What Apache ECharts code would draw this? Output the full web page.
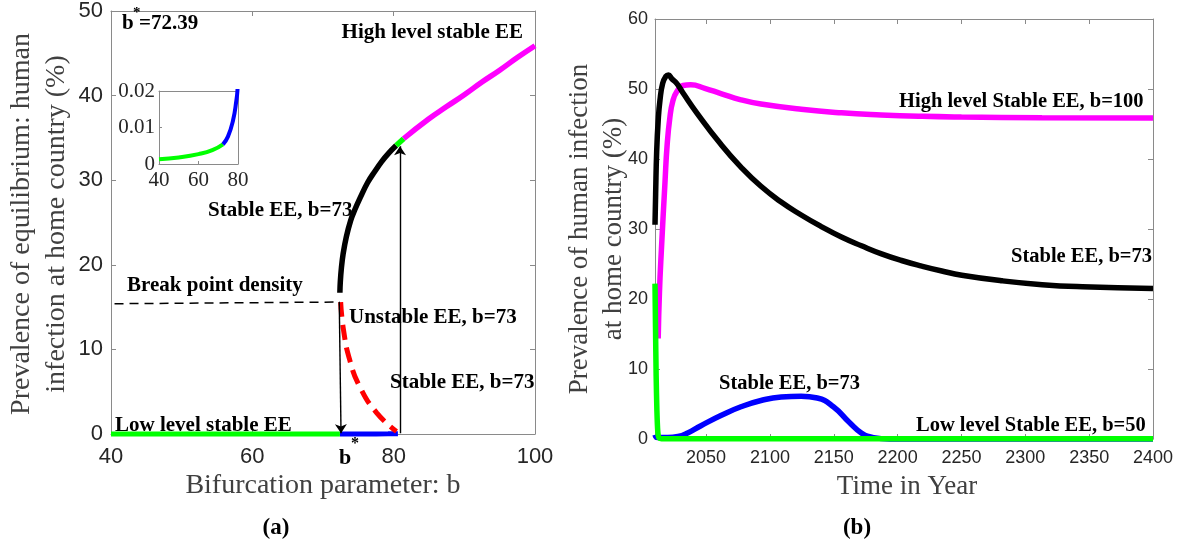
<!DOCTYPE html>
<html>
<head>
<meta charset="utf-8">
<script src="https://cdn.jsdelivr.net/npm/echarts@6/dist/echarts.min.js"></script>
<style>
html,body{margin:0;padding:0;background:#fff;}
#chart{width:1190px;height:550px;}
</style>
</head>
<body>
<div id="chart"></div>
<script>
// ---------- Panel (a): bifurcation diagram ----------
const lowStableB = [40, 50, 60, 67, 72.39];
const lowStableV = [0.0013, 0.0018, 0.0027, 0.0038, 0.0054];
const lowBlueB = [72.39, 74.9, 77.5, 79.2, 79.7, 80.6];
const lowBlueV = [0.0054, 0.0075, 0.012, 0.0175, 0.02, 0.03];
const upperB = [72.39, 72.45, 72.6, 72.85, 73.3, 73.9, 74.5, 75.3, 76.3, 77.3, 78.3, 79.3, 80.35];
const upperV = [16.7, 18.0, 19.6, 21.3, 23.3, 25.2, 26.5, 28.0, 29.7, 31.0, 32.2, 33.2, 34.1];
const greenBitB = [80.35, 81.4];
const greenBitV = [34.1, 34.9];
const highB = [81.4, 84.9, 87.5, 90, 92.5, 95, 97.5, 100];
const highV = [34.9, 37.2, 38.7, 40.1, 41.6, 43.0, 44.5, 45.9];
const unstableB = [72.5, 72.9, 73.8, 75.2, 77.6, 80.4];
const unstableV = [15.6, 12.3, 8.7, 5.6, 2.5, 0.3];
const breakB = [40.5, 72.39];
const breakV = [15.4, 15.6];
const arrowDown = [[72.3, 15.6], [72.55, 0.1]];
const arrowUp = [[80.9, 0.1], [80.9, 34.0]];
const arrowDiag = [[75.5, -0.5], [83.9, 4.9]];

// ---------- Panel (b): time series ----------
const xTickYears = [2050, 2100, 2150, 2200, 2250, 2300, 2350, 2400];
const tHigh = [2012.5, 2013.5, 2015, 2017.8, 2019.5, 2021.7, 2024, 2027, 2032, 2038, 2049, 2061.6, 2077.3, 2093, 2124.5, 2156, 2187, 2219, 2250, 2313, 2400];
const vHigh = [14.35, 21, 27, 36.6, 42, 46, 48.3, 49.6, 50.5, 50.6, 50.1, 49.35, 48.45, 47.85, 47.1, 46.6, 46.3, 46.1, 46.0, 45.9, 45.85];
const tMid = [2010, 2010.5, 2011.3, 2012.5, 2013.9, 2016, 2018.5, 2020.5, 2023, 2027, 2031.7, 2042.7, 2061.6, 2077.3, 2093, 2108.8, 2124.5, 2140.2, 2156, 2171.7, 2187.4, 2203.1, 2218.9, 2234.6, 2250.3, 2281.8, 2313.2, 2344.7, 2400];
const vMid = [30.6, 35, 41, 45.5, 48.4, 50.8, 51.8, 52, 51.5, 50.8, 49.5, 46.6, 42.1, 38.85, 36.1, 33.85, 32, 30.35, 28.85, 27.6, 26.45, 25.5, 24.7, 24, 23.4, 22.6, 22.05, 21.75, 21.5];
const tBlue = [2010, 2012, 2020, 2028, 2036, 2046, 2061.6, 2077.3, 2093, 2108.8, 2124.5, 2137.1, 2149.7, 2162.3, 2171.7, 2181.1, 2193.7, 2400];
const vBlue = [0.6, 0.2, 0.2, 0.35, 0.9, 1.9, 3.35, 4.6, 5.5, 6.0, 6.1, 5.85, 4.6, 2.35, 0.85, 0.2, 0, 0];
const tLow = [2010, 2010.4, 2010.9, 2011.5, 2012.2, 2013, 2015, 2400];
const vLow = [22.2, 16, 9, 4, 1, 0.2, 0.05, 0.05];

const zip = (a, b) => a.map((x, i) => [x, b[i]]);

const AX = '#8a8a8a';
const LBL = '#262626';
const SANS = 'Liberation Sans, Arial, sans-serif';
const SERIF = 'Liberation Serif, Times New Roman, serif';
const plain = v => String(Math.round(v * 1000) / 1000);

function xAx(grid, min, max, opts) {
  return Object.assign({
    type: 'value', gridIndex: grid, min: min, max: max,
    axisLine: {show: true, onZero: false, lineStyle: {color: AX, width: 1}},
    axisTick: {show: true, inside: true, length: 5, lineStyle: {color: AX}},
    splitLine: {show: false},
    axisLabel: {show: true, color: LBL, fontFamily: SANS, fontSize: 22, margin: 12, formatter: plain}
  }, opts || {});
}

const chart = echarts.init(document.getElementById('chart'), null, {renderer: 'canvas'});

function line(data, color, width, xi, yi, extra) {
  return Object.assign({
    type: 'line', data: data, xAxisIndex: xi, yAxisIndex: yi,
    showSymbol: false, symbol: 'none', clip: false, silent: true,
    smooth: 0.5,
    lineStyle: {color: color, width: width, cap: 'butt'}
  }, extra || {});
}

function txt(x, y, text, opt) {
  opt = opt || {};
  return {
    type: 'text', x: x, y: y, rotation: opt.rot || 0, silent: true, z: 100,
    style: {
      text: text,
      font: opt.font || ('bold 21px ' + SERIF),
      fill: opt.fill || '#000',
      textAlign: opt.align || 'left',
      textVerticalAlign: 'middle'
    }
  };
}
const ANN_B = 'bold 20.5px ' + SERIF;
const TITLE = '28px ' + SERIF;

const option = {
  animation: false,
  backgroundColor: '#fff',
  grid: [
    {left: 111, top: 10, width: 424, height: 424},
    {left: 159, top: 91, width: 79, height: 73},
    {left: 655, top: 19, width: 498, height: 420}
  ],
  xAxis: [
    xAx(0, 40, 100, {interval: 20}),
    xAx(0, 40, 100, {interval: 20, position: 'top', axisLabel: {show: false}}),
    xAx(1, 40, 80, {interval: 20, axisTick: {show: true, inside: true, length: 3, lineStyle: {color: AX}},
        axisLabel: {show: true, color: LBL, fontFamily: SERIF, fontSize: 21, margin: 6, formatter: plain}}),
    xAx(1, 40, 80, {interval: 20, position: 'top', axisTick: {show: false}, axisLabel: {show: false}}),
    xAx(2, 2010, 2400, {
      axisTick: {show: true, inside: true, length: 5, lineStyle: {color: AX}, customValues: xTickYears},
      axisLabel: {show: true, color: LBL, fontFamily: SANS, fontSize: 18, margin: 10, customValues: xTickYears, showMaxLabel: true, formatter: plain}
    }),
    xAx(2, 2010, 2400, {position: 'top',
      axisTick: {show: true, inside: true, length: 5, lineStyle: {color: AX}, customValues: xTickYears},
      axisLabel: {show: false}})
  ],
  yAxis: [
    xAx(0, 0, 50, {interval: 10, axisLabel: {show: true, color: LBL, fontFamily: SANS, fontSize: 22, margin: 8, formatter: plain}}),
    xAx(0, 0, 50, {interval: 10, position: 'right', axisLabel: {show: false}}),
    xAx(1, 0, 0.02, {interval: 0.01, axisTick: {show: true, inside: true, length: 3, lineStyle: {color: AX}},
        axisLabel: {show: true, color: LBL, fontFamily: SERIF, fontSize: 21, margin: 4, formatter: plain}}),
    xAx(1, 0, 0.02, {interval: 0.01, position: 'right', axisTick: {show: false}, axisLabel: {show: false}}),
    xAx(2, 0, 60, {interval: 10, axisLabel: {show: true, color: LBL, fontFamily: SANS, fontSize: 18, margin: 7, formatter: plain}}),
    xAx(2, 0, 60, {interval: 10, position: 'right', axisLabel: {show: false}})
  ],
  series: [
    // panel (a)
    line(zip(breakB, breakV), '#000', 1.5, 0, 0, {smooth: false, lineStyle: {color: '#000', width: 1.5, type: [9, 6]},
      markLine: {
        silent: true, symbol: ['none', 'arrow'], symbolSize: 9, animation: false,
        label: {show: false},
        lineStyle: {color: '#000', width: 1.4, type: 'solid'},
        data: [
          [{coord: arrowDown[0]}, {coord: arrowDown[1]}],
          [{coord: arrowUp[0]}, {coord: arrowUp[1]}],
          [{coord: arrowDiag[0]}, {coord: arrowDiag[1]}]
        ]
      }}),
    line(zip(lowBlueB, lowBlueV), '#0000ff', 5, 0, 0, {smooth: false}),
    line(zip(lowStableB, lowStableV), '#00ff00', 5, 0, 0, {smooth: false}),
    line(zip(unstableB, unstableV), '#ff0000', 5, 0, 0, {lineStyle: {color: '#ff0000', width: 5, type: [15, 8], cap: 'butt'}}),
    line(zip(upperB, upperV), '#000', 5.5, 0, 0, {smooth: 0.4}),
    line(zip(highB, highV), '#ff00ff', 5.5, 0, 0),
    line(zip(greenBitB, greenBitV), '#00ff00', 5.5, 0, 0, {smooth: false}),
    // inset
    line(zip(lowStableB, lowStableV), '#00ff00', 4, 2, 2, {clip: true}),
    line(zip(lowBlueB, lowBlueV), '#0000ff', 4, 2, 2, {clip: true}),
    // panel (b)
    line(zip(tHigh, vHigh), '#ff00ff', 5.5, 4, 4),
    line(zip(tMid, vMid), '#000', 5.5, 4, 4),
    line(zip(tBlue, vBlue), '#0000ff', 5.5, 4, 4),
    line(zip(tLow, vLow), '#00ff00', 5.5, 4, 4, {smooth: 0.2})
  ],
  graphic: [
    // panel (a) annotations
    txt(122, 24, 'b'), txt(133, 13, '*', {font: 'bold 15px ' + SERIF}), txt(139, 24, '=72.39'),
    txt(523, 33, 'High level stable EE', {align: 'right'}),
    txt(208, 211, 'Stable EE, b=73'),
    txt(127, 286, 'Break point density'),
    txt(349, 318, 'Unstable EE, b=73'),
    txt(390, 383, 'Stable EE, b=73'),
    txt(115, 426, 'Low level stable EE'),
    txt(339, 458, 'b', {font: 'bold 22px ' + SERIF}),
    txt(351, 444, '*', {font: 'bold 16px ' + SERIF}),
    // panel (b) annotations
    txt(899, 102, 'High level Stable EE, b=100', {font: ANN_B}),
    txt(1152, 257, 'Stable EE, b=73', {align: 'right', font: ANN_B}),
    txt(719, 384, 'Stable EE, b=73', {font: ANN_B}),
    txt(916, 426, 'Low level Stable EE, b=50', {font: ANN_B}),
    // axis titles
    txt(22, 224, 'Prevalence of equilibrium: human', {rot: Math.PI / 2, align: 'center', font: TITLE, fill: '#404040'}),
    txt(57, 224, 'infection at home country (%)', {rot: Math.PI / 2, align: 'center', font: TITLE, fill: '#404040'}),
    txt(323, 486, 'Bifurcation parameter: b', {align: 'center', font: TITLE, fill: '#404040'}),
    txt(276, 528, '(a)', {align: 'center', font: 'bold 23px ' + SERIF}),
    txt(580, 229, 'Prevalence of human infection', {rot: Math.PI / 2, align: 'center', font: '27px ' + SERIF, fill: '#404040'}),
    txt(614, 229, 'at home country (%)', {rot: Math.PI / 2, align: 'center', font: '27px ' + SERIF, fill: '#404040'}),
    txt(907, 487, 'Time in Year', {align: 'center', font: '27px ' + SERIF, fill: '#404040'}),
    txt(857, 528, '(b)', {align: 'center', font: 'bold 23px ' + SERIF})
  ]
};
chart.setOption(option);
</script>
</body>
</html>
